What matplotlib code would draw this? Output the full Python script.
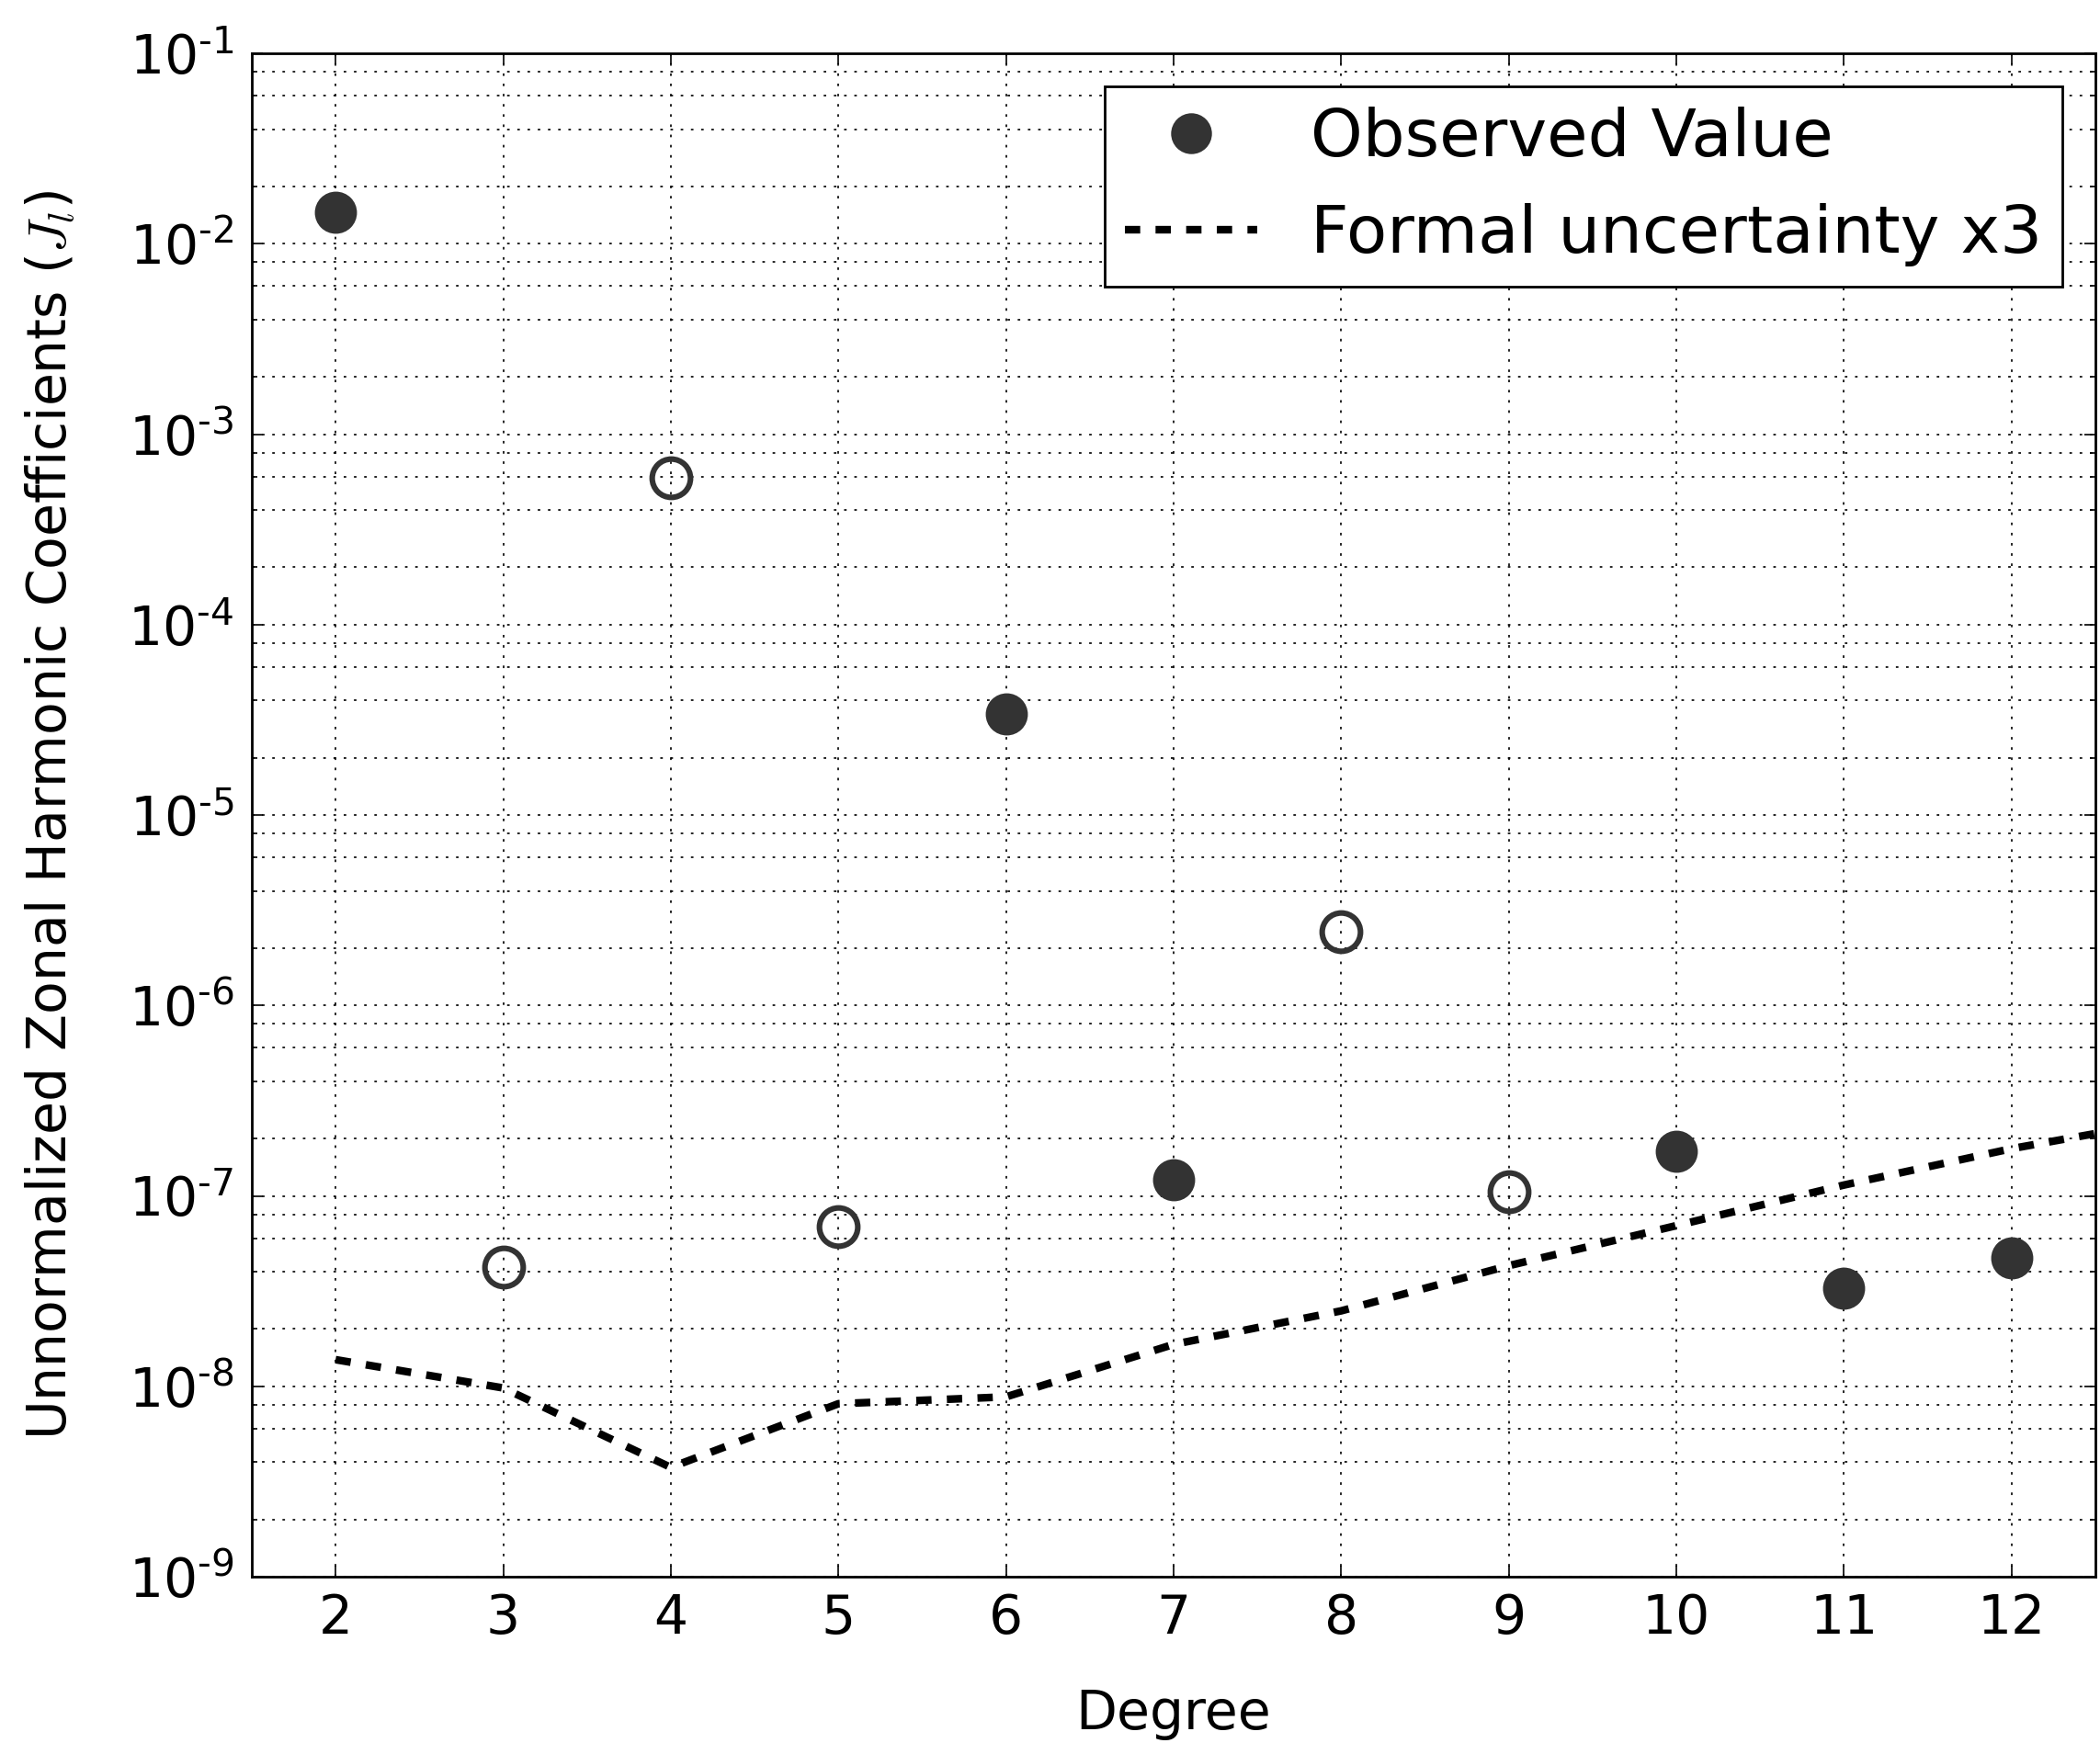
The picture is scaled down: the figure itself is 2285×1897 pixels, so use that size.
import numpy as np
import matplotlib
matplotlib.use("Agg")
import matplotlib.pyplot as plt
from matplotlib.ticker import LogLocator, FuncFormatter, FixedLocator, NullFormatter
from matplotlib.lines import Line2D

plt.rcParams['font.family'] = ['DejaVu Sans']
plt.rcParams['mathtext.fontset'] = 'cm'
plt.rcParams['lines.scale_dashes'] = False

# Data
degrees = [2, 3, 4, 5, 6, 7, 8, 9, 10, 11, 12]
observed = [1.466e-2, -4.22e-8, -5.87e-4, -6.88e-8, 3.41e-5, 1.22e-7,
            -2.43e-6, -1.05e-7, 1.71e-7, 3.29e-8, 4.70e-8]
unc_degrees = [2, 3, 4, 5, 6, 7, 8, 9, 10, 11, 12, 13]
uncertainty_x3 = [1.38e-8, 9.8e-9, 3.75e-9, 8.1e-9, 8.8e-9, 1.66e-8,
                  2.49e-8, 4.3e-8, 6.98e-8, 1.14e-7, 1.77e-7, 2.55e-7]
x_ticks = [2, 3, 4, 5, 6, 7, 8, 9, 10, 11, 12]

color = '#333333'
HYPHEN = '\u2010'

fig = plt.figure(figsize=(11.425, 9.485), dpi=200)
ax = fig.add_axes([0.1199, 0.0954, 0.9978 - 0.1199, 0.9694 - 0.0954])

deg = np.array(degrees)
obs = np.array(observed)
pos = obs > 0
ax.plot(deg[pos], obs[pos], 'o', ms=15, color=color, mec=color, mew=1.5, zorder=3)
ax.plot(deg[~pos], -obs[~pos], 'o', ms=15, mfc='none', mec=color, mew=2.2, zorder=3)
ax.plot(unc_degrees, uncertainty_x3, color='black', lw=3, dashes=(6, 6),
        dash_capstyle='butt', zorder=2)

ax.set_yscale('log')
ax.set_xlim(1.5, 12.5)
ax.set_ylim(1e-9, 1e-1)

ax.xaxis.set_major_locator(FixedLocator(x_ticks))
ax.yaxis.set_major_locator(LogLocator(base=10, numticks=20))
ax.yaxis.set_minor_locator(LogLocator(base=10, subs=[2, 4, 6, 8], numticks=20))
ax.yaxis.set_minor_formatter(NullFormatter())

def fmt(v, p):
    e = int(round(np.log10(v)))
    if e < 0:
        return '$\\mathdefault{10^{' + HYPHEN + str(-e) + '}}$'
    return '$\\mathdefault{10^{' + str(e) + '}}$'
ax.yaxis.set_major_formatter(FuncFormatter(fmt))

ax.tick_params(which='both', direction='in', top=True, right=True)
ax.tick_params(which='major', length=4.3, width=0.6, labelsize=21, pad=7)
ax.tick_params(which='minor', length=2, width=0.6)
ax.tick_params(axis='x', which='major', pad=6)

for s in ax.spines.values():
    s.set_linewidth(1.0)

ax.grid(True, which='major', axis='both', linestyle=(0, (1, 3)), color='black', lw=0.6)
ax.grid(True, which='minor', axis='y', linestyle=(0, (1, 3)), color='black', lw=0.6)
ax.set_axisbelow(True)

ax.set_xlabel('Degree', fontsize=21, labelpad=17)
ax.set_ylabel(r'Unnormalized Zonal Harmonic Coefficients ($J_l$)', fontsize=21, labelpad=20)

handles = [Line2D([], [], ls='none', marker='o', ms=15, color=color, mec=color),
           Line2D([], [], color='black', lw=3, dashes=(6, 6))]
leg = ax.legend(handles, ['Observed Value', 'Formal uncertainty x3'], loc='upper right',
                fontsize=26, numpoints=1, fancybox=False, framealpha=1,
                edgecolor='black', borderpad=0.3, labelspacing=0.5)
leg.get_frame().set_linewidth(1.0)

fig.savefig('out.png', dpi=200)
